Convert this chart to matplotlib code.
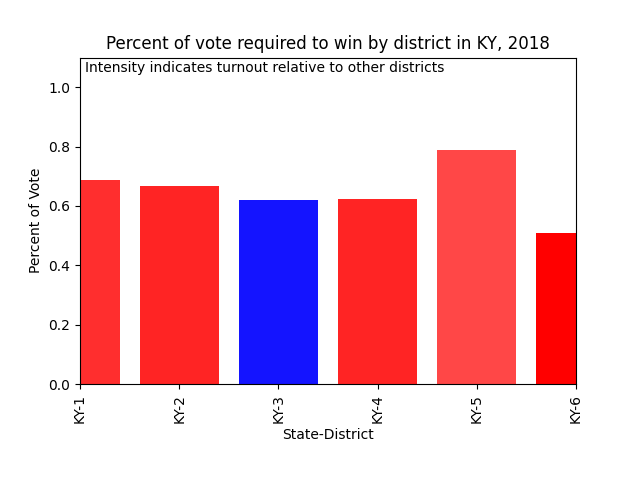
import matplotlib
matplotlib.use("Agg")
import matplotlib.pyplot as plt

districts = ["KY-1", "KY-2", "KY-3", "KY-4", "KY-5", "KY-6"]
vote_share = [0.687, 0.667, 0.620, 0.623, 0.789, 0.508]
party_color = ["red", "red", "blue", "red", "red", "red"]
intensity = [0.82, 0.86, 0.92, 0.86, 0.72, 1.0]


def main() -> None:
    fig, ax = plt.subplots(figsize=(6.4, 4.8), dpi=100)
    fig.subplots_adjust(bottom=0.2)

    for i, (share, col, a) in enumerate(zip(vote_share, party_color, intensity)):
        ax.bar(i, share, width=0.8, color=col, alpha=a)

    ax.set_xticks(range(len(districts)))
    ax.set_xticklabels(districts, rotation=90)
    ax.set_xlim(0, len(districts) - 1)
    ax.set_ylim(0, 1.1)

    ax.set_title("Percent of vote required to win by district in KY, 2018")
    ax.set_xlabel("State-District")
    ax.set_ylabel("Percent of Vote")
    ax.text(0.01, 0.99, "Intensity indicates turnout relative to other districts",
            transform=ax.transAxes, va="top", ha="left")

    fig.savefig("out.png")


if __name__ == "__main__":
    main()
